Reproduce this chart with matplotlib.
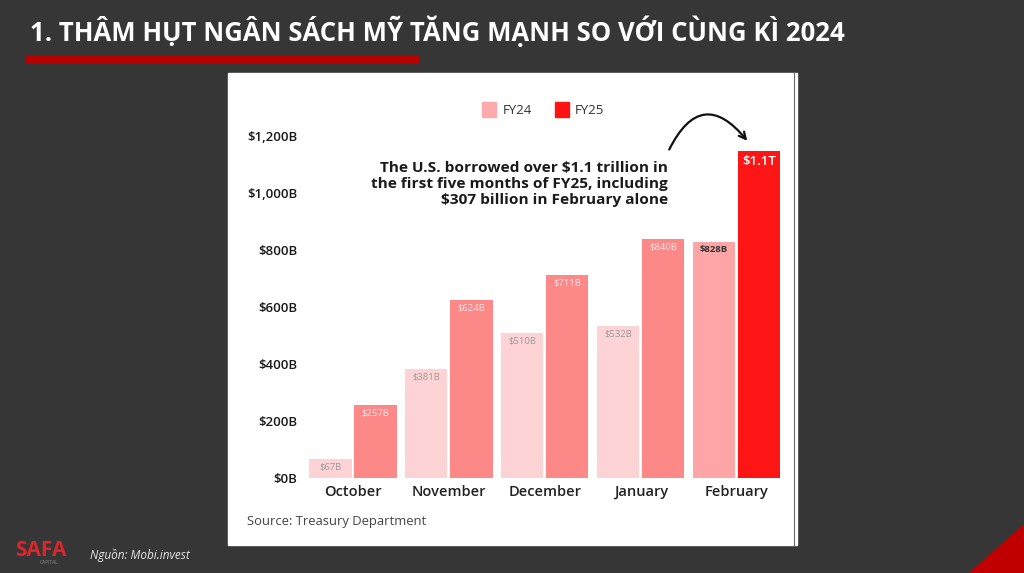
import matplotlib
matplotlib.use("Agg")
import matplotlib.pyplot as plt
from matplotlib.patches import Rectangle, Polygon
import numpy as np

plt.rcParams['font.family'] = ['Open Sans', 'DejaVu Sans']

months = ["October", "November", "December", "January", "February"]
fy24 = [67, 381, 510, 532, 828]
fy25 = [257, 624, 711, 840, 1147]
fy24_labels = ["$67B", "$381B", "$510B", "$532B", "$828B"]
fy25_labels = ["$257B", "$624B", "$711B", "$840B", "$1.1T"]
yticks = [0, 200, 400, 600, 800, 1000, 1200]
ytick_labels = ["$0B", "$200B", "$400B", "$600B", "$800B", "$1,000B", "$1,200B"]

title = "1. THÂM HỤT NGÂN SÁCH MỸ TĂNG MẠNH SO VỚI CÙNG KÌ 2024"
note = "The U.S. borrowed over $1.1 trillion in\nthe first five months of FY25, including\n$307 billion in February alone"

W, H = 1024, 573
fig = plt.figure(figsize=(W / 100, H / 100), dpi=100)
fig.patch.set_facecolor("#363636")

def fx(x):
    return x / W

def fy(y):
    return 1 - y / H

# background overlay
bg = fig.add_axes([0, 0, 1, 1])
bg.set_xlim(0, W)
bg.set_ylim(H, 0)
bg.axis("off")
bg.add_patch(Rectangle((0, 0), W, H, color="#363636", zorder=0))
# white panel
bg.add_patch(Rectangle((228, 73), 569, 472, color="white", zorder=1))
bg.plot([794, 794], [73, 545], color="#666666", lw=0.8, zorder=2)
# title underline
bg.add_patch(Rectangle((26, 56), 392, 6, color="#b80000", zorder=2))
# red triangle
bg.add_patch(Polygon([[970, 573], [1024, 525], [1024, 573]], closed=True, color="#c00000", zorder=2))
bg.text(30, 31, title, color="white", fontsize=18.5, fontweight="bold", va="center", ha="left", zorder=3)
bg.text(90, 555, "Nguồn: Mobi.invest", color="#e6e6e6", fontsize=8.5, style="italic", va="center", ha="left", zorder=3)
bg.text(15, 550, "SAFA", color="#e0242a", fontsize=15, fontweight="bold", va="center", ha="left", zorder=3)
bg.text(40, 563, "CAPITAL", color="#888888", fontsize=3.5, va="center", ha="left", zorder=3)
bg.text(247, 522, "Source: Treasury Department", color="#444444", fontsize=9.4, va="center", ha="left", zorder=3)

# main chart axes
left, right, top, bottom = 300, 790, 136, 478
ax = fig.add_axes([fx(left), fy(bottom), fx(right) - fx(left), fy(top) - fy(bottom)])
ax.set_facecolor("none")
x = np.arange(len(months))
bw = 0.44
off = 0.235
c24 = ["#fdd3d5"] * 4 + ["#fda5a7"]
c25 = ["#fc8888"] * 4 + ["#fe1515"]
ax.bar(x - off, fy24, width=bw, color=c24, zorder=2)
ax.bar(x + off, fy25, width=bw, color=c25, zorder=2)

for i in range(len(months)):
    if i < 4:
        ax.text(x[i] - off, fy24[i] - 12, fy24_labels[i], ha="center", va="top", fontsize=6.8, color="#9a9a9a")
        ax.text(x[i] + off, fy25[i] - 12, fy25_labels[i], ha="center", va="top", fontsize=6.8, color="#fde4e4")
    else:
        ax.text(x[i] - off, fy24[i] - 12, fy24_labels[i], ha="center", va="top", fontsize=6.8, color="#333333", fontweight="bold")
        ax.text(x[i] + off, fy25[i] - 12, fy25_labels[i], ha="center", va="top", fontsize=9.5, color="white", fontweight="semibold")

ax.set_xlim(-0.553, 4.557)
ax.set_ylim(0, 1200)
ax.set_xticks(x)
ax.set_xticklabels(months, fontsize=10.5, color="#222222", fontweight="semibold")
ax.set_yticks(yticks)
ax.set_yticklabels(ytick_labels, fontsize=9.5, color="#1a1a1a", fontweight="semibold")
ax.tick_params(axis="both", length=0)
ax.tick_params(axis="y", pad=2)
ax.tick_params(axis="x", pad=5)
for s in ax.spines.values():
    s.set_visible(False)

# legend
bg.add_patch(Rectangle((482, 102), 14, 15, color="#fdaaac", zorder=3))
bg.text(503, 110, "FY24", fontsize=9.5, color="#333333", va="center", ha="left", zorder=3)
bg.add_patch(Rectangle((555, 102), 14, 15, color="#fe1212", zorder=3))
bg.text(575, 110, "FY25", fontsize=9.5, color="#333333", va="center", ha="left", zorder=3)

# annotation
bg.text(668, 184, note, fontsize=11.1, fontweight="bold", color="#1a1a1a", ha="right", va="center",
        linespacing=1.2, zorder=3)
bg.annotate("", xy=(749, 143), xytext=(668, 152),
            arrowprops=dict(arrowstyle="->", color="#111111", lw=1.6,
                            connectionstyle="arc3,rad=-0.8", mutation_scale=12), zorder=3)

fig.savefig("out.png", dpi=100, facecolor=fig.get_facecolor())
